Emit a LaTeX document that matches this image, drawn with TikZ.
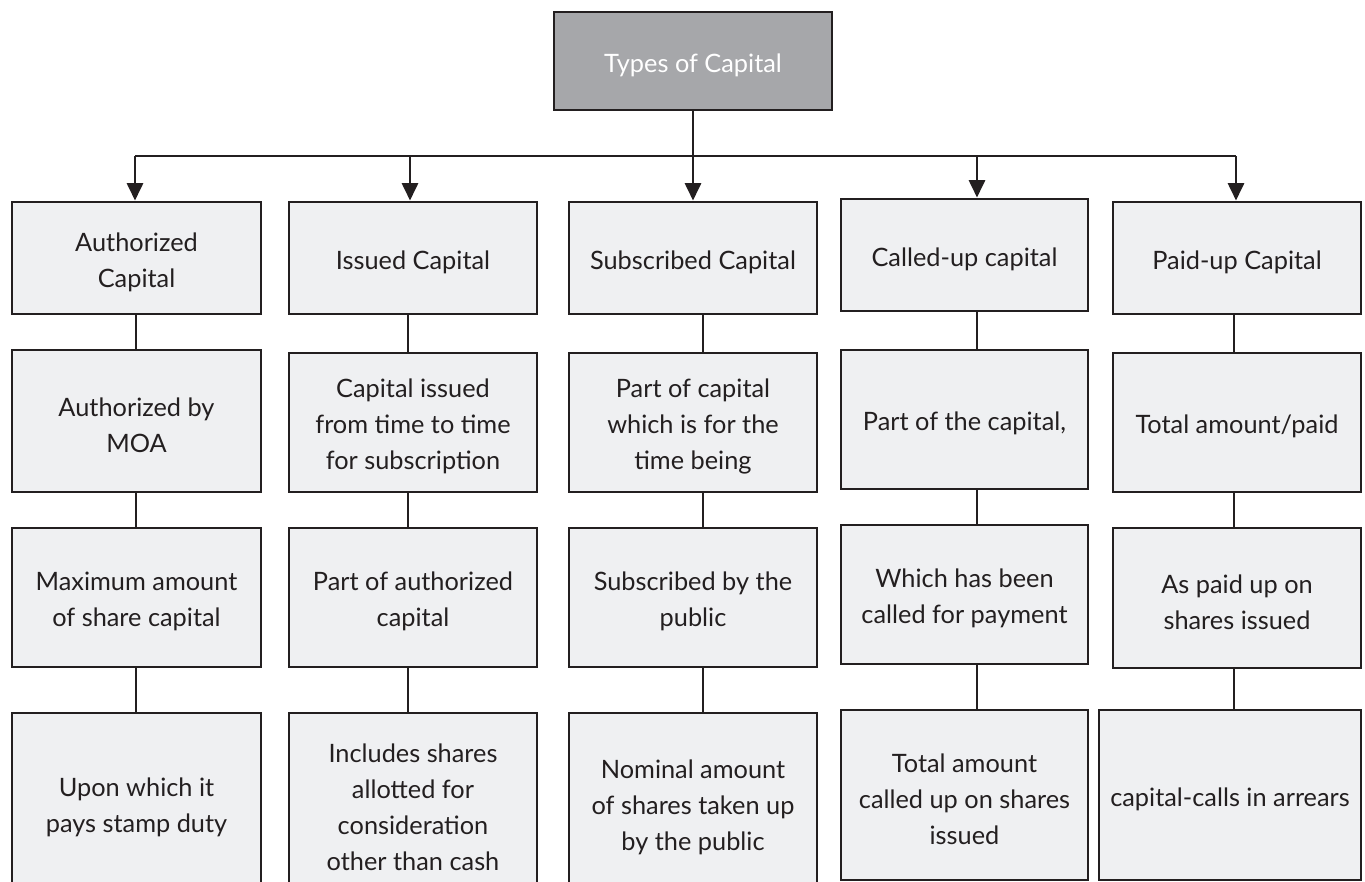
\documentclass[tikz,border=0pt]{standalone}
\usepackage{fontspec}
\setmainfont{Lato}
\usetikzlibrary{arrows.meta}
\definecolor{boxfill}{HTML}{EFF0F2}
\definecolor{headfill}{HTML}{A6A7AA}
\definecolor{ink}{HTML}{231F20}
% \capbox[extra]{name}{x1}{y1}{x2}{y2}{text}: a box given by its corners, with its text
\newcommand\capbox[7][]{%
  \node[cbox, minimum width={(#5-#3)*0.75pt}, minimum height={(#6-#4)*0.75pt}, #1]
    (#2) at ({(#3+#5)/2},{(#4+#6)/2}) {};
  \node[ctext, #1] (#2t) at ([yshift=-3pt]#2.center) {#7};}
\begin{document}
\begin{tikzpicture}[x=0.75pt,y=-0.75pt,
  cbox/.style={draw=ink, line width=2.2pt, fill=boxfill, inner sep=0pt},
  ctext/.style={align=center, inner sep=0pt, font=\fontsize{19}{27}\selectfont, text=ink},
  headbox/.style={fill=headfill, text=white},
  link/.style={draw=ink, line width=2pt},
  arr/.style={link, -{Triangle[width=12pt,length=13pt]}}]
\useasboundingbox (0,0) rectangle (1365,882);
\clip (0,0) rectangle (1365,882);

% title box
\capbox[headbox]{head}{554}{12}{832}{110}{Types of Capital}

% first row: the five kinds of capital
\capbox{c1r1}{12}{202}{261}{314}{Authorized\\Capital}
\capbox{c2r1}{289}{202}{537}{314}{Issued Capital}
\capbox{c3r1}{569}{202}{817}{314}{Subscribed Capital}
\capbox{c4r1}{841}{199}{1088}{311}{Called-up capital}
\capbox{c5r1}{1113}{202}{1361}{314}{Paid-up Capital}

% second row
\capbox{c1r2}{12}{350}{261}{492}{Authorized by\\MOA}
\capbox{c2r2}{289}{353}{537}{492}{Capital issued\\from time to time\\for subscription}
\capbox{c3r2}{569}{353}{817}{492}{Part of capital\\which is for the\\time being}
\capbox{c4r2}{841}{350}{1088}{489}{Part of the capital,}
\capbox{c5r2}{1113}{353}{1361}{492}{Total amount/paid}

% third row
\capbox{c1r3}{12}{528}{261}{667}{Maximum amount\\of share capital}
\capbox{c2r3}{289}{528}{537}{667}{Part of authorized\\capital}
\capbox{c3r3}{569}{528}{817}{667}{Subscribed by the\\public}
\capbox{c4r3}{841}{525}{1088}{664}{Which has been\\called for payment}
\capbox{c5r3}{1113}{528}{1361}{668}{As paid up on\\shares issued}

% fourth row
\capbox{c1r4}{12}{713}{261}{893}{Upon which it\\pays stamp duty}
\capbox{c2r4}{289}{713}{537}{893}{Includes shares\\allotted for\\consideration\\other than cash}
\capbox{c3r4}{569}{713}{817}{893}{Nominal amount\\of shares taken up\\by the public}
\capbox{c4r4}{841}{710}{1088}{880}{Total amount\\called up on shares\\issued}
\capbox{c5r4}{1099}{710}{1361}{880}{capital-calls in arrears}

% distribution bus
\coordinate (k1) at (135,156);
\coordinate (k2) at (410,156);
\coordinate (k3) at (693,156);
\coordinate (k4) at (977,156);
\coordinate (k5) at (1236,156);
\draw[link] (head.south) -- (k3);
\draw[link] (k1) -- (k5);
\draw[arr] (k1) -- (c1r1.north -| k1);
\draw[arr] (k2) -- (c2r1.north -| k2);
\draw[arr] (k3) -- (c3r1.north -| k3);
\draw[arr] (k4) -- (c4r1.north -| k4);
\draw[arr] (k5) -- (c5r1.north -| k5);

% column spines
\coordinate (s1) at (136,0);
\coordinate (s2) at (408,0);
\coordinate (s3) at (703,0);
\coordinate (s4) at (977,0);
\coordinate (s5) at (1234,0);
\foreach \c in {1,...,5}{
  \draw[link] (c\c r1.south -| s\c) -- (c\c r2.north -| s\c);
  \draw[link] (c\c r2.south -| s\c) -- (c\c r3.north -| s\c);
  \draw[link] (c\c r3.south -| s\c) -- (c\c r4.north -| s\c);
}
\end{tikzpicture}
\end{document}
